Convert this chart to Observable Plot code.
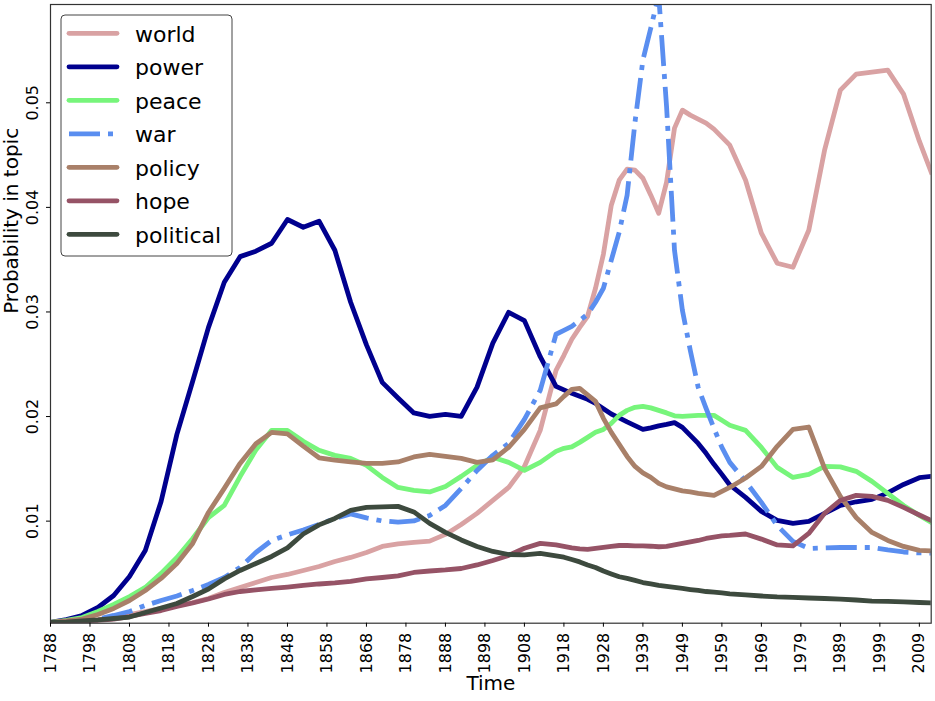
<!DOCTYPE html>
<html>
<head>
<meta charset="utf-8">
<script src="https://cdn.jsdelivr.net/npm/d3@7"></script>
<script src="https://cdn.jsdelivr.net/npm/@observablehq/plot@0.6"></script>
<style>
  html, body { margin: 0; padding: 0; background: white; }
  #chart svg { display: block; }
</style>
</head>
<body>
<div id="chart"></div>
<script>
// Position of each sample along the time axis (index of the address in the series)
const idx = [0,4,8,12,16,20,24,28,32,36,40,44,48,52,56,60,64,68,72,76,80,84,88,92,96,100,104,108,112,116,120,124,128,
  130,132,134,136,138,140,142,144,146,148,150,152,154,156,158,160,162,164,166,168,170,172,
  176,180,184,188,192,196,200,204,208,212,216,220,223];

// X tick positions and labels
const tickIdx = [0,10,20,30,40,50,60,70,80,90,100,110,120,130,140,150,160,170,180,190,200,210,220];
const tickLabels = ["1788","1798","1808","1818","1828","1838","1848","1858","1868","1878","1888","1898","1908","1918","1928","1939","1949","1959","1969","1979","1989","1999","2009"];
const yTicks = [0.01, 0.02, 0.03, 0.04, 0.05];

const seriesNames = ["world","power","peace","war","policy","hope","political"];

const world = [0.00031,0.00035,0.00045,0.00059,0.00078,0.00107,0.00136,0.00165,0.00193,0.00222,0.0026,0.00318,0.00366,0.00413,0.00461,0.0049,0.00528,0.00566,0.00614,0.00653,0.007,0.00758,0.00782,0.00796,0.00809,0.00873,0.00968,0.01074,0.01198,0.01322,0.01523,0.01868,0.02442,
  0.02586,0.02739,0.02853,0.02959,0.03227,0.03552,0.04021,0.0426,0.04365,0.04356,0.04279,0.04117,0.03944,0.04241,0.04758,0.0493,0.04882,0.04844,0.04806,0.04748,0.04672,0.04595,
  0.0426,0.03753,0.03466,0.03428,0.03782,0.04547,0.05121,0.05274,0.05294,0.05313,0.05083,0.04633,0.04337];

const power = [0.00031,0.00059,0.00098,0.00174,0.00289,0.00471,0.0072,0.01188,0.0183,0.02337,0.02853,0.03284,0.03529,0.03581,0.03657,0.03884,0.0381,0.03868,0.0359,0.03093,0.02685,0.02327,0.02178,0.02035,0.02002,0.02021,0.02002,0.02281,0.02702,0.02997,0.02917,0.02572,0.02289,
  0.02255,0.02222,0.02193,0.02165,0.02126,0.02074,0.02024,0.01988,0.01949,0.01913,0.01877,0.01892,0.01911,0.01925,0.01942,0.01897,0.0182,0.01743,0.01648,0.01543,0.01447,0.01346,
  0.01227,0.01093,0.01007,0.00978,0.00997,0.01075,0.0115,0.01185,0.01208,0.0127,0.01351,0.01415,0.01428];

const peace = [0.00031,0.0005,0.00078,0.00136,0.00203,0.00279,0.00366,0.005,0.00653,0.00834,0.01035,0.0115,0.01426,0.0168,0.01868,0.01868,0.01763,0.01677,0.01629,0.016,0.01533,0.01418,0.01322,0.01294,0.01279,0.01332,0.01428,0.01533,0.0161,0.01562,0.01485,0.01562,0.01667,
  0.01696,0.0171,0.01753,0.01801,0.01849,0.01877,0.01935,0.02011,0.02059,0.02088,0.02098,0.02083,0.02059,0.02035,0.02007,0.02002,0.02007,0.02011,0.02011,0.02011,0.01964,0.01916,
  0.01868,0.01705,0.01514,0.01418,0.01447,0.01523,0.01519,0.01476,0.0138,0.01265,0.0115,0.01054,0.00988];

const war = [0.00031,0.00035,0.00045,0.00064,0.00098,0.00136,0.00193,0.00241,0.00284,0.00337,0.00394,0.00461,0.00557,0.007,0.00815,0.00868,0.00916,0.00968,0.01026,0.01069,0.01031,0.01002,0.0099,0.01002,0.01054,0.0115,0.01313,0.01485,0.01629,0.01743,0.01973,0.02251,0.02787,
  0.02825,0.02863,0.0292,0.02978,0.03093,0.03227,0.03495,0.03763,0.04117,0.04815,0.05408,0.05715,0.0603,0.04959,0.0359,0.03016,0.02633,0.02279,0.02078,0.01887,0.01705,0.01562,
  0.0138,0.01179,0.00959,0.00806,0.00739,0.00744,0.00748,0.00748,0.00748,0.00724,0.00705,0.00696,0.00694];

const policy = [0.00031,0.00045,0.00064,0.00107,0.00165,0.00241,0.00337,0.00452,0.00595,0.00787,0.01083,0.01313,0.01552,0.0174,0.01849,0.01834,0.01717,0.01606,0.01583,0.01567,0.01552,0.01552,0.01566,0.01614,0.01638,0.01619,0.016,0.01562,0.01586,0.01705,0.01877,0.02083,0.02121,
  0.02193,0.0226,0.0227,0.02208,0.02145,0.01983,0.01849,0.01734,0.01619,0.01523,0.01461,0.01418,0.01361,0.01327,0.01308,0.01289,0.01279,0.01265,0.01255,0.01246,0.01284,0.01322,
  0.01413,0.01523,0.01715,0.01877,0.019,0.01504,0.01236,0.01035,0.00892,0.00815,0.00758,0.0072,0.00715];

const hope = [0.00031,0.00035,0.0004,0.0005,0.00064,0.00088,0.00117,0.00145,0.00184,0.00217,0.00255,0.00299,0.00327,0.00342,0.00356,0.0037,0.00385,0.00399,0.00409,0.00423,0.00447,0.00461,0.00476,0.00509,0.00523,0.00533,0.00547,0.00581,0.00624,0.00672,0.00741,0.00787,0.00772,
  0.00758,0.00744,0.00734,0.00729,0.00739,0.00748,0.00758,0.00767,0.00767,0.00763,0.00763,0.0076,0.00755,0.00758,0.00772,0.00787,0.00801,0.00815,0.00834,0.00847,0.00858,0.00863,
  0.00877,0.00828,0.00772,0.00764,0.00882,0.01074,0.01198,0.01246,0.01236,0.01198,0.01131,0.01059,0.01007];

const political = [0.00031,0.00035,0.00045,0.00055,0.00069,0.00083,0.00126,0.00169,0.00212,0.00279,0.00351,0.00448,0.00528,0.00595,0.00662,0.00744,0.00877,0.00964,0.01026,0.01102,0.01131,0.01136,0.01141,0.01088,0.00978,0.00892,0.0082,0.00758,0.0071,0.00681,0.00677,0.00691,0.00667,
  0.00655,0.00633,0.0061,0.00581,0.00557,0.00523,0.00495,0.00468,0.00452,0.00433,0.00413,0.00399,0.00385,0.00375,0.00366,0.00356,0.00346,0.00337,0.00327,0.00321,0.00313,0.00305,
  0.00294,0.00284,0.00275,0.0027,0.00265,0.0026,0.00254,0.00246,0.00236,0.00232,0.00227,0.00222,0.00219];

const seriesValues = [world, power, peace, war, policy, hope, political];
const seriesColors = ["#d9a2a3", "#00008e", "#77f57b", "#5a8ef0", "#a98069", "#965366", "#3d4a3e"];
const seriesDash = [null, null, null, "31,8,5,8", null, null, null];

const rows = seriesNames.flatMap((name, s) =>
  idx.map((i, k) => ({series: name, i, value: seriesValues[s][k]})));

const lineMarks = seriesNames.map((name, s) =>
  Plot.line(rows.filter(r => r.series === name), {
    x: "i", y: "value",
    stroke: seriesColors[s],
    strokeWidth: 4.8,
    strokeDasharray: seriesDash[s] || undefined,
    strokeLinejoin: "round",
    strokeLinecap: seriesDash[s] ? "butt" : "square",
    clip: true
  }));

const chart = Plot.plot({
  width: 935,
  height: 701,
  marginLeft: 50,
  marginRight: 4.3,
  marginTop: 4,
  marginBottom: 78.3,
  style: {fontFamily: "DejaVu Sans", fontSize: "16px", background: "white", color: "black"},
  x: {domain: [0, 223]},
  y: {domain: [0.00024, 0.0594]},
  marks: [
    ...lineMarks,
    Plot.frame({stroke: "#333", strokeWidth: 1.2}),
    Plot.axisX({ticks: tickIdx, tickFormat: () => "", tickSize: 4, label: null}),
    Plot.axisY({ticks: yTicks, tickFormat: () => "", tickSize: 4, label: null}),
    Plot.text(tickIdx, {x: d => d, text: (d, i) => tickLabels[i], frameAnchor: "bottom", dy: 9.5, rotate: -90, textAnchor: "end", lineAnchor: "middle", fontSize: 16, fill: "black"}),
    Plot.text(yTicks, {y: d => d, text: d => d3.format(".2f")(d), frameAnchor: "left", dx: -18, rotate: -90, textAnchor: "middle", lineAnchor: "middle", fontSize: 16, fill: "black"}),
    Plot.text(["Time"], {text: d => d, frameAnchor: "bottom", dy: 67, fontSize: 20}),
    Plot.text(["Probability in topic"], {text: d => d, frameAnchor: "left", dx: -39, rotate: -90, fontSize: 20})
  ]
});

document.getElementById("chart").appendChild(chart);

// Legend (matplotlib style, upper left inside axes)
const svg = d3.select(chart);
const lg = svg.append("g").attr("font-family", "DejaVu Sans").attr("text-anchor", "start");
lg.append("rect")
  .attr("x", 61).attr("y", 15).attr("width", 171).attr("height", 241)
  .attr("rx", 4).attr("fill", "white").attr("fill-opacity", 0.85)
  .attr("stroke", "#444").attr("stroke-width", 1);
seriesNames.forEach((name, s) => {
  const cy = 33.3 + s * 33.5;
  lg.append("line")
    .attr("x1", 69).attr("x2", 117).attr("y1", cy).attr("y2", cy)
    .attr("stroke", seriesColors[s]).attr("stroke-width", 4.8)
    .attr("stroke-linecap", seriesDash[s] ? "butt" : "round")
    .attr("stroke-dasharray", seriesDash[s]);
  lg.append("text")
    .attr("x", 135).attr("y", cy + 8.4)
    .attr("text-anchor", "start")
    .style("font-size", "22px").attr("fill", "black")
    .text(name);
});
</script>
</body>
</html>
